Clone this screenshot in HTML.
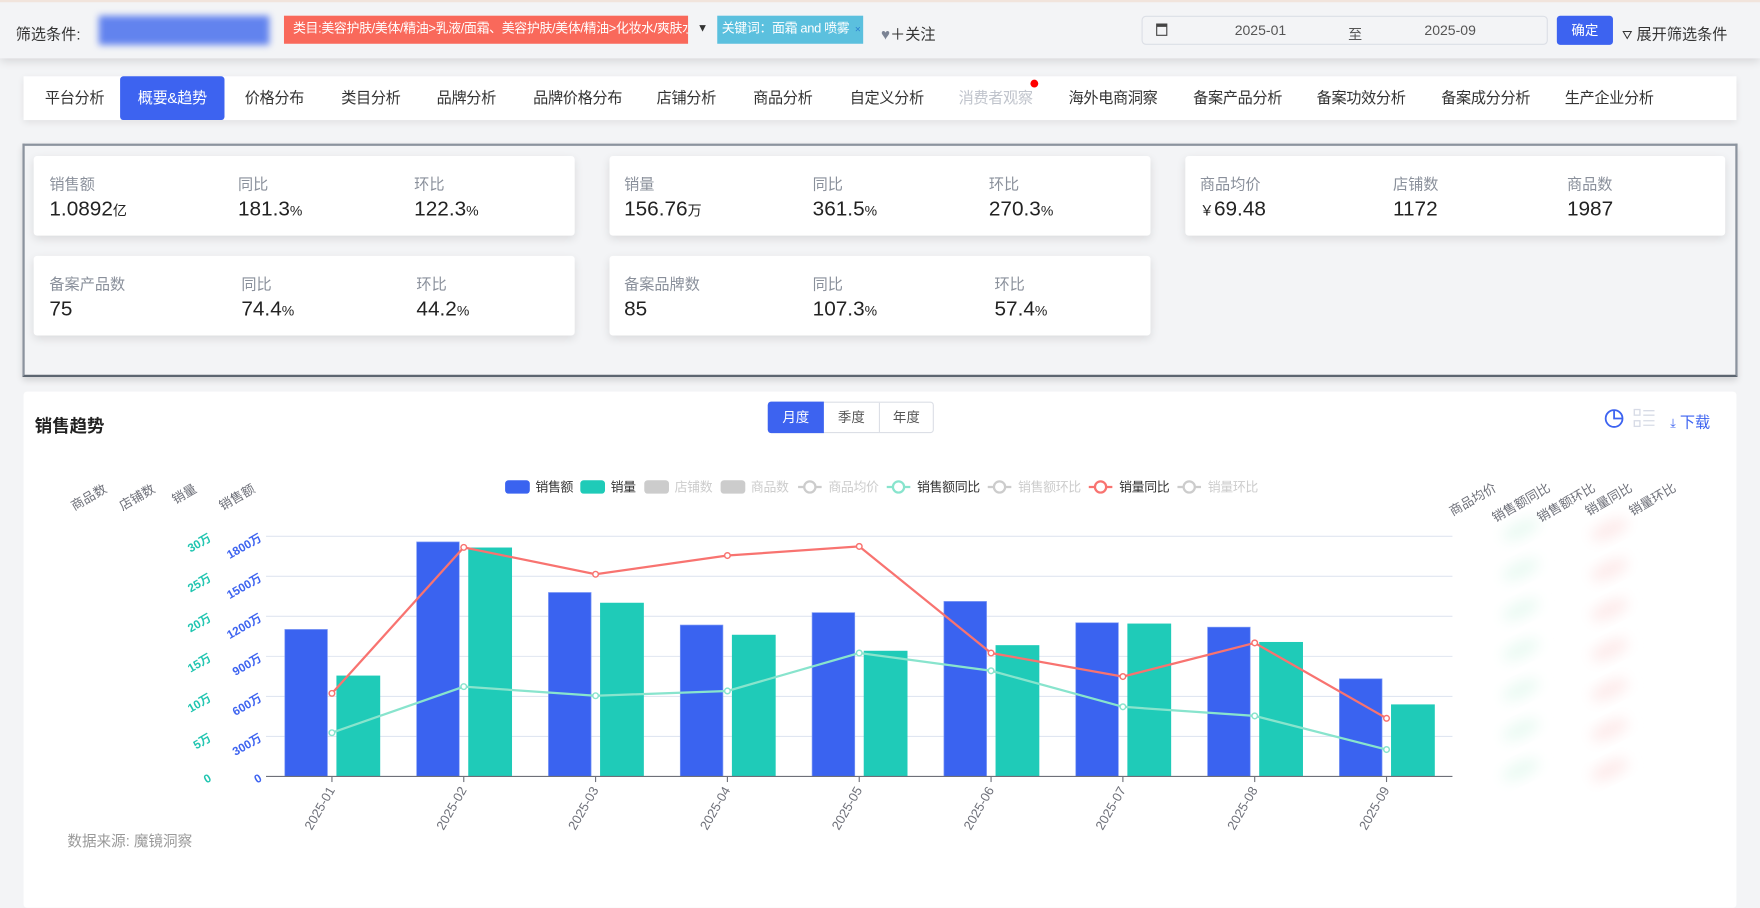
<!DOCTYPE html>
<html lang="zh">
<head>
<meta charset="utf-8">
<style>
html,body{margin:0;padding:0;width:1760px;height:892px;overflow:hidden;background:#f3f4f6;}
#wrap{position:absolute;left:0;top:0;width:1568px;height:795px;transform:scale(1.12245,1.12201);transform-origin:0 0;font-family:"Liberation Sans","Noto Sans CJK SC",sans-serif;color:#333;}
.abs{position:absolute;}
.header{left:0;top:0;width:1568px;height:52px;background:#f3f4f6;box-shadow:0 3px 8px rgba(0,0,0,0.12);border-top:2px solid #f1e4dc;box-sizing:border-box;}
.tag{height:25px;line-height:25px;font-size:11.5px;color:#fff;padding-left:8px;box-sizing:border-box;white-space:nowrap;overflow:hidden;letter-spacing:-0.3px;}
.tabs{left:21px;top:68px;width:1526px;height:39px;background:#fff;box-shadow:0 2px 6px rgba(0,0,0,0.08);}
.tab{top:0;height:39px;line-height:39px;font-size:13.5px;color:#333;white-space:nowrap;letter-spacing:-0.3px;}
.kpibox{left:20px;top:128px;width:1528px;height:208px;border:2px solid #8b939e;border-bottom-color:#5c6570;box-sizing:border-box;background:#f3f4f6;box-shadow:0 3px 6px rgba(0,0,0,0.15);}
.card{background:#fff;border-radius:3px;box-shadow:0 3px 8px rgba(0,0,0,0.10);height:71px;width:482px;}
.lab{font-size:13.5px;color:#8a909b;top:14px;white-space:nowrap;}
.val{font-size:18.5px;color:#222;top:36px;white-space:nowrap;}
.val small{font-size:12.5px;}
.panel{left:21px;top:349px;width:1526px;height:460px;background:#fff;border-radius:3px;}
</style>
</head>
<body>
<div id="wrap">
  <div class="abs header">
    <div class="abs" style="left:14px;top:17px;font-size:13.5px;color:#333;">筛选条件:</div>
    <div class="abs" style="left:88px;top:12px;width:152px;height:26px;background:#6283ee;filter:blur(3px);"></div>
    <div class="abs tag" style="left:253px;top:12px;width:360px;background:#f9695b;">类目:美容护肤/美体/精油&gt;乳液/面霜、美容护肤/美体/精油&gt;化妆水/爽肤水</div>
    <div class="abs" style="left:621px;top:18px;font-size:10px;color:#333;">▼</div>
    <div class="abs tag" style="left:639px;top:12px;width:130px;background:#5bc0de;padding-left:4px;">关键词：面霜 and 喷雾 <span style="color:#2a7fd0;font-size:9px;margin-left:2px">×</span></div>
    <div class="abs" style="left:785px;top:17px;font-size:13.5px;color:#333;"><span style="color:#7b8394">♥</span>＋关注</div>
    <div class="abs" style="left:1017px;top:12px;width:362px;height:26px;border:1px solid #dcdfe6;border-radius:4px;box-sizing:border-box;background:#f3f4f6;">
      <div class="abs" style="left:12px;top:6px;width:10px;height:11px;border:1px solid #444;border-top:3px solid #444;box-sizing:border-box;"></div>
      <div class="abs" style="left:82px;top:5px;font-size:12.5px;color:#555;">2025-01</div>
      <div class="abs" style="left:183px;top:5px;font-size:12.5px;color:#555;">至</div>
      <div class="abs" style="left:251px;top:5px;font-size:12.5px;color:#555;">2025-09</div>
    </div>
    <div class="abs" style="left:1387px;top:12px;width:50px;height:26px;background:#3d63f0;border-radius:3px;color:#fff;font-size:12px;line-height:26px;text-align:center;">确定</div>
    <div class="abs" style="left:1445px;top:17px;font-size:13.5px;color:#333;white-space:nowrap;"><span style="font-size:11px">⛛</span> 展开筛选条件</div>
  </div>

  <div class="abs tabs">
    <div class="abs tab" style="left:19px">平台分析</div>
    <div class="abs tab" style="left:86px;width:93px;background:#3d63f0;color:#fff;border-radius:3px;text-align:center">概要&amp;趋势</div>
    <div class="abs tab" style="left:197px">价格分布</div>
    <div class="abs tab" style="left:283px">类目分析</div>
    <div class="abs tab" style="left:368px">品牌分析</div>
    <div class="abs tab" style="left:454px">品牌价格分布</div>
    <div class="abs tab" style="left:564px">店铺分析</div>
    <div class="abs tab" style="left:650px">商品分析</div>
    <div class="abs tab" style="left:736px">自定义分析</div>
    <div class="abs tab" style="left:833px;color:#c0c4cc">消费者观察</div>
    <div class="abs" style="left:897px;top:3px;width:7px;height:7px;border-radius:50%;background:#f00"></div>
    <div class="abs tab" style="left:931px">海外电商洞察</div>
    <div class="abs tab" style="left:1042px">备案产品分析</div>
    <div class="abs tab" style="left:1152px">备案功效分析</div>
    <div class="abs tab" style="left:1263px">备案成分分析</div>
    <div class="abs tab" style="left:1373px">生产企业分析</div>
  </div>

  <div class="abs kpibox"></div>
  <div class="abs card" style="left:30px;top:139px">
    <div class="abs lab" style="left:14px">销售额</div><div class="abs val" style="left:14px">1.0892<small>亿</small></div>
    <div class="abs lab" style="left:182px">同比</div><div class="abs val" style="left:182px">181.3<small>%</small></div>
    <div class="abs lab" style="left:339px">环比</div><div class="abs val" style="left:339px">122.3<small>%</small></div>
  </div>
  <div class="abs card" style="left:543px;top:139px">
    <div class="abs lab" style="left:13px">销量</div><div class="abs val" style="left:13px">156.76<small>万</small></div>
    <div class="abs lab" style="left:181px">同比</div><div class="abs val" style="left:181px">361.5<small>%</small></div>
    <div class="abs lab" style="left:338px">环比</div><div class="abs val" style="left:338px">270.3<small>%</small></div>
  </div>
  <div class="abs card" style="left:1056px;top:139px;width:481px">
    <div class="abs lab" style="left:13px">商品均价</div><div class="abs val" style="left:13px"><small>￥</small>69.48</div>
    <div class="abs lab" style="left:185px">店铺数</div><div class="abs val" style="left:185px">1172</div>
    <div class="abs lab" style="left:340px">商品数</div><div class="abs val" style="left:340px">1987</div>
  </div>
  <div class="abs card" style="left:30px;top:228px">
    <div class="abs lab" style="left:14px">备案产品数</div><div class="abs val" style="left:14px">75</div>
    <div class="abs lab" style="left:185px">同比</div><div class="abs val" style="left:185px">74.4<small>%</small></div>
    <div class="abs lab" style="left:341px">环比</div><div class="abs val" style="left:341px">44.2<small>%</small></div>
  </div>
  <div class="abs card" style="left:543px;top:228px">
    <div class="abs lab" style="left:13px">备案品牌数</div><div class="abs val" style="left:13px">85</div>
    <div class="abs lab" style="left:181px">同比</div><div class="abs val" style="left:181px">107.3<small>%</small></div>
    <div class="abs lab" style="left:343px">环比</div><div class="abs val" style="left:343px">57.4<small>%</small></div>
  </div>

  <div class="abs panel"></div>
  <div class="abs" style="left:31px;top:368px;font-size:15.5px;font-weight:bold;color:#222">销售趋势</div>
  <div class="abs" style="left:684px;top:358px;width:148px;height:28px;border:1px solid #dcdfe6;border-radius:3px;box-sizing:border-box;font-size:12px;">
    <div class="abs" style="left:-1px;top:-1px;width:50px;height:28px;background:#3d63f0;color:#fff;line-height:28px;text-align:center;border-radius:3px 0 0 3px">月度</div>
    <div class="abs" style="left:49px;top:0;width:49px;height:26px;line-height:26px;text-align:center;border-right:1px solid #dcdfe6;color:#555">季度</div>
    <div class="abs" style="left:98px;top:0;width:49px;height:26px;line-height:26px;text-align:center;color:#555">年度</div>
  </div>
  <svg class="abs" style="left:1428px;top:363px" width="20" height="20"><circle cx="10" cy="10" r="7.5" fill="none" stroke="#3d63f0" stroke-width="1.6"/><path d="M10 2.5V10H17.5" fill="none" stroke="#3d63f0" stroke-width="1.6"/></svg>
  <svg class="abs" style="left:1455px;top:364px" width="20" height="18"><g fill="none" stroke="#d7dbe6" stroke-width="1.2"><rect x="1" y="1" width="5" height="5"/><rect x="1" y="11" width="5" height="5"/><path d="M9 2H19M9 6H19M9 11H19M9 15H19"/></g></svg>
  <div class="abs" style="left:1488px;top:365px;font-size:13.5px;color:#3d63f0"><span style="font-size:11px">⤓</span> 下载</div>
  <div class="abs" style="left:60px;top:739px;font-size:13px;color:#999">数据来源: 魔镜洞察</div>

  <svg id="chart" class="abs" style="left:0;top:0" width="1568" height="795"></svg>
</div>
<script>
const categories=['2025-01','2025-02','2025-03','2025-04','2025-05','2025-06','2025-07','2025-08','2025-09'];
const salesValues=[1102,1758,1379,1135,1228,1312,1152,1119,732];
const volumeValues=[12.6,28.6,21.7,17.7,15.7,16.4,19.1,16.8,9.0];
const salesYoY=[173,477,421,460,479,257,208,278,121];
const volumeYoY=[91,187,168,178,257,220,145,126,56];
const salesTicks=['0','300万','600万','900万','1200万','1500万','1800万'];
const volumeTicks=['0','5万','10万','15万','20万','25万','30万'];
const leftAxisNames=['商品数','店铺数','销量','销售额'];
const rightAxisNames=['商品均价','销售额同比','销售额环比','销量同比','销量环比'];

const NS='http://www.w3.org/2000/svg';
const svg=document.getElementById('chart');
const X0=237,X1=1294,Y0=692,YT=478,H=Y0-YT;
const step=(X1-X0)/categories.length;
function xC(i){return X0+step*(i+0.5);}
function ySales(v){return Y0-v/1800*H;}
function yVol(v){return Y0-v/30*H;}
function yPct(v){return Y0-v/500*H;}
function mk(tag,attrs,parent){const e=document.createElementNS(NS,tag);for(const k in attrs)e.setAttribute(k,attrs[k]);(parent||svg).appendChild(e);return e;}
function txt(s,attrs,parent){const e=mk('text',attrs,parent);e.textContent=s;return e;}

const defs=mk('defs',{});
const f=mk('filter',{id:'bl',x:'-50%',y:'-50%',width:'200%',height:'200%'},defs);
mk('feGaussianBlur',{stdDeviation:'6'},f);
for(let k=0;k<7;k++){
  const y=Y0-k*H/6-6;
  const g1=mk('ellipse',{cx:1355,cy:y,rx:18,ry:7,fill:'#eafaf3',filter:'url(#bl)',transform:`rotate(-25 1355 ${y})`});
  
  
  const g2=mk('ellipse',{cx:1434,cy:y,rx:18,ry:7,fill:'#fdeaea',filter:'url(#bl)',transform:`rotate(-25 1434 ${y})`});
  
  
}

for(let k=0;k<=6;k++){
  const y=Y0-k*H/6;
  if(k>0){const l=mk('line',{x1:X0,x2:X1,y1:y,y2:y,stroke:'#e0e6f1','stroke-width':1});
    
    }
  const t1=txt(salesTicks[k],{x:232,y:y+4,'text-anchor':'end','font-size':10.5,'font-weight':'bold',fill:'#3d63f0',transform:`rotate(-30 232 ${y})`});
  
  
  const t2=txt(volumeTicks[k],{x:187,y:y+4,'text-anchor':'end','font-size':10.5,'font-weight':'bold',fill:'#20c5b0',transform:`rotate(-30 187 ${y})`});
  
  
}
const lx=[96,139,176,228];
leftAxisNames.forEach((n,i)=>{
  const t=txt(n,{x:lx[i],y:438,'text-anchor':'end','font-size':11.5,fill:'#6e7079',transform:`rotate(-30 ${lx[i]} 438)`});
  
  
});
const rx=[1334,1382,1422,1455,1494];
rightAxisNames.forEach((n,i)=>{
  const t=txt(n,{x:rx[i],y:437,'text-anchor':'end','font-size':11.5,fill:'#6e7079',transform:`rotate(-30 ${rx[i]} 437)`});
  
  
});

categories.forEach((c,i)=>{
  const cx=xC(i);
  const b1=mk('rect',{x:cx-42,y:ySales(salesValues[i]),width:38,height:Y0-ySales(salesValues[i]),fill:'#3a63f0',stroke:'#7f9bf5','stroke-width':0.6});
  
  
  const b2=mk('rect',{x:cx+4,y:yVol(volumeValues[i]),width:39,height:Y0-yVol(volumeValues[i]),fill:'#1fcbb8'});
  
  
});
const ax=mk('line',{x1:X0,x2:X1,y1:Y0,y2:Y0,stroke:'#6e7079','stroke-width':1});


categories.forEach((c,i)=>{
  const cx=xC(i);
  mk('line',{x1:cx,x2:cx,y1:Y0,y2:Y0+5,stroke:'#6e7079'});
  const t=txt(c,{x:cx+3,y:Y0+12,'text-anchor':'end','font-size':11.5,fill:'#6e7079',transform:`rotate(-60 ${cx+3} ${Y0+12})`});
  
  
});
function series(vals,color,name){
  const pts=vals.map((v,i)=>[xC(i),yPct(v)]);
  const p=mk('polyline',{points:pts.map(p=>p.join(',')).join(' '),fill:'none',stroke:color,'stroke-width':2});
  
  
  pts.forEach(q=>{
    const c=mk('circle',{cx:q[0],cy:q[1],r:2.5,fill:'#fff',stroke:color,'stroke-width':1.3});
    
    
  });
}
series(volumeYoY,'#88e4cd','sales-yoy');
series(salesYoY,'#f87370','volume-yoy');

const leg=[
  ['box','#3a63f0','销售额',450,'#333'],['box','#1fcbb8','销量',517,'#333'],['box','#ccc','店铺数',574,'#ccc'],['box','#ccc','商品数',642,'#ccc'],
  ['line','#ccc','商品均价',711,'#ccc'],['line','#88e4cd','销售额同比',790,'#333'],['line','#ccc','销售额环比',880,'#ccc'],['line','#f87370','销量同比',970,'#333'],['line','#ccc','销量环比',1049,'#ccc']];
leg.forEach(l=>{
  const g=mk('g',{});
  
  
  if(l[0]==='box'){mk('rect',{x:l[3],y:428,width:22,height:12,rx:3,fill:l[1]},g);}
  else{mk('line',{x1:l[3],x2:l[3]+21,y1:434,y2:434,stroke:l[1],'stroke-width':2},g);mk('circle',{cx:l[3]+10.5,cy:434,r:5,fill:'#fff',stroke:l[1],'stroke-width':2},g);}
  txt(l[2],{x:l[3]+27,y:438,'font-size':11.5,fill:l[4],'letter-spacing':'-0.3'},g);
});
</script>
</body>
</html>
